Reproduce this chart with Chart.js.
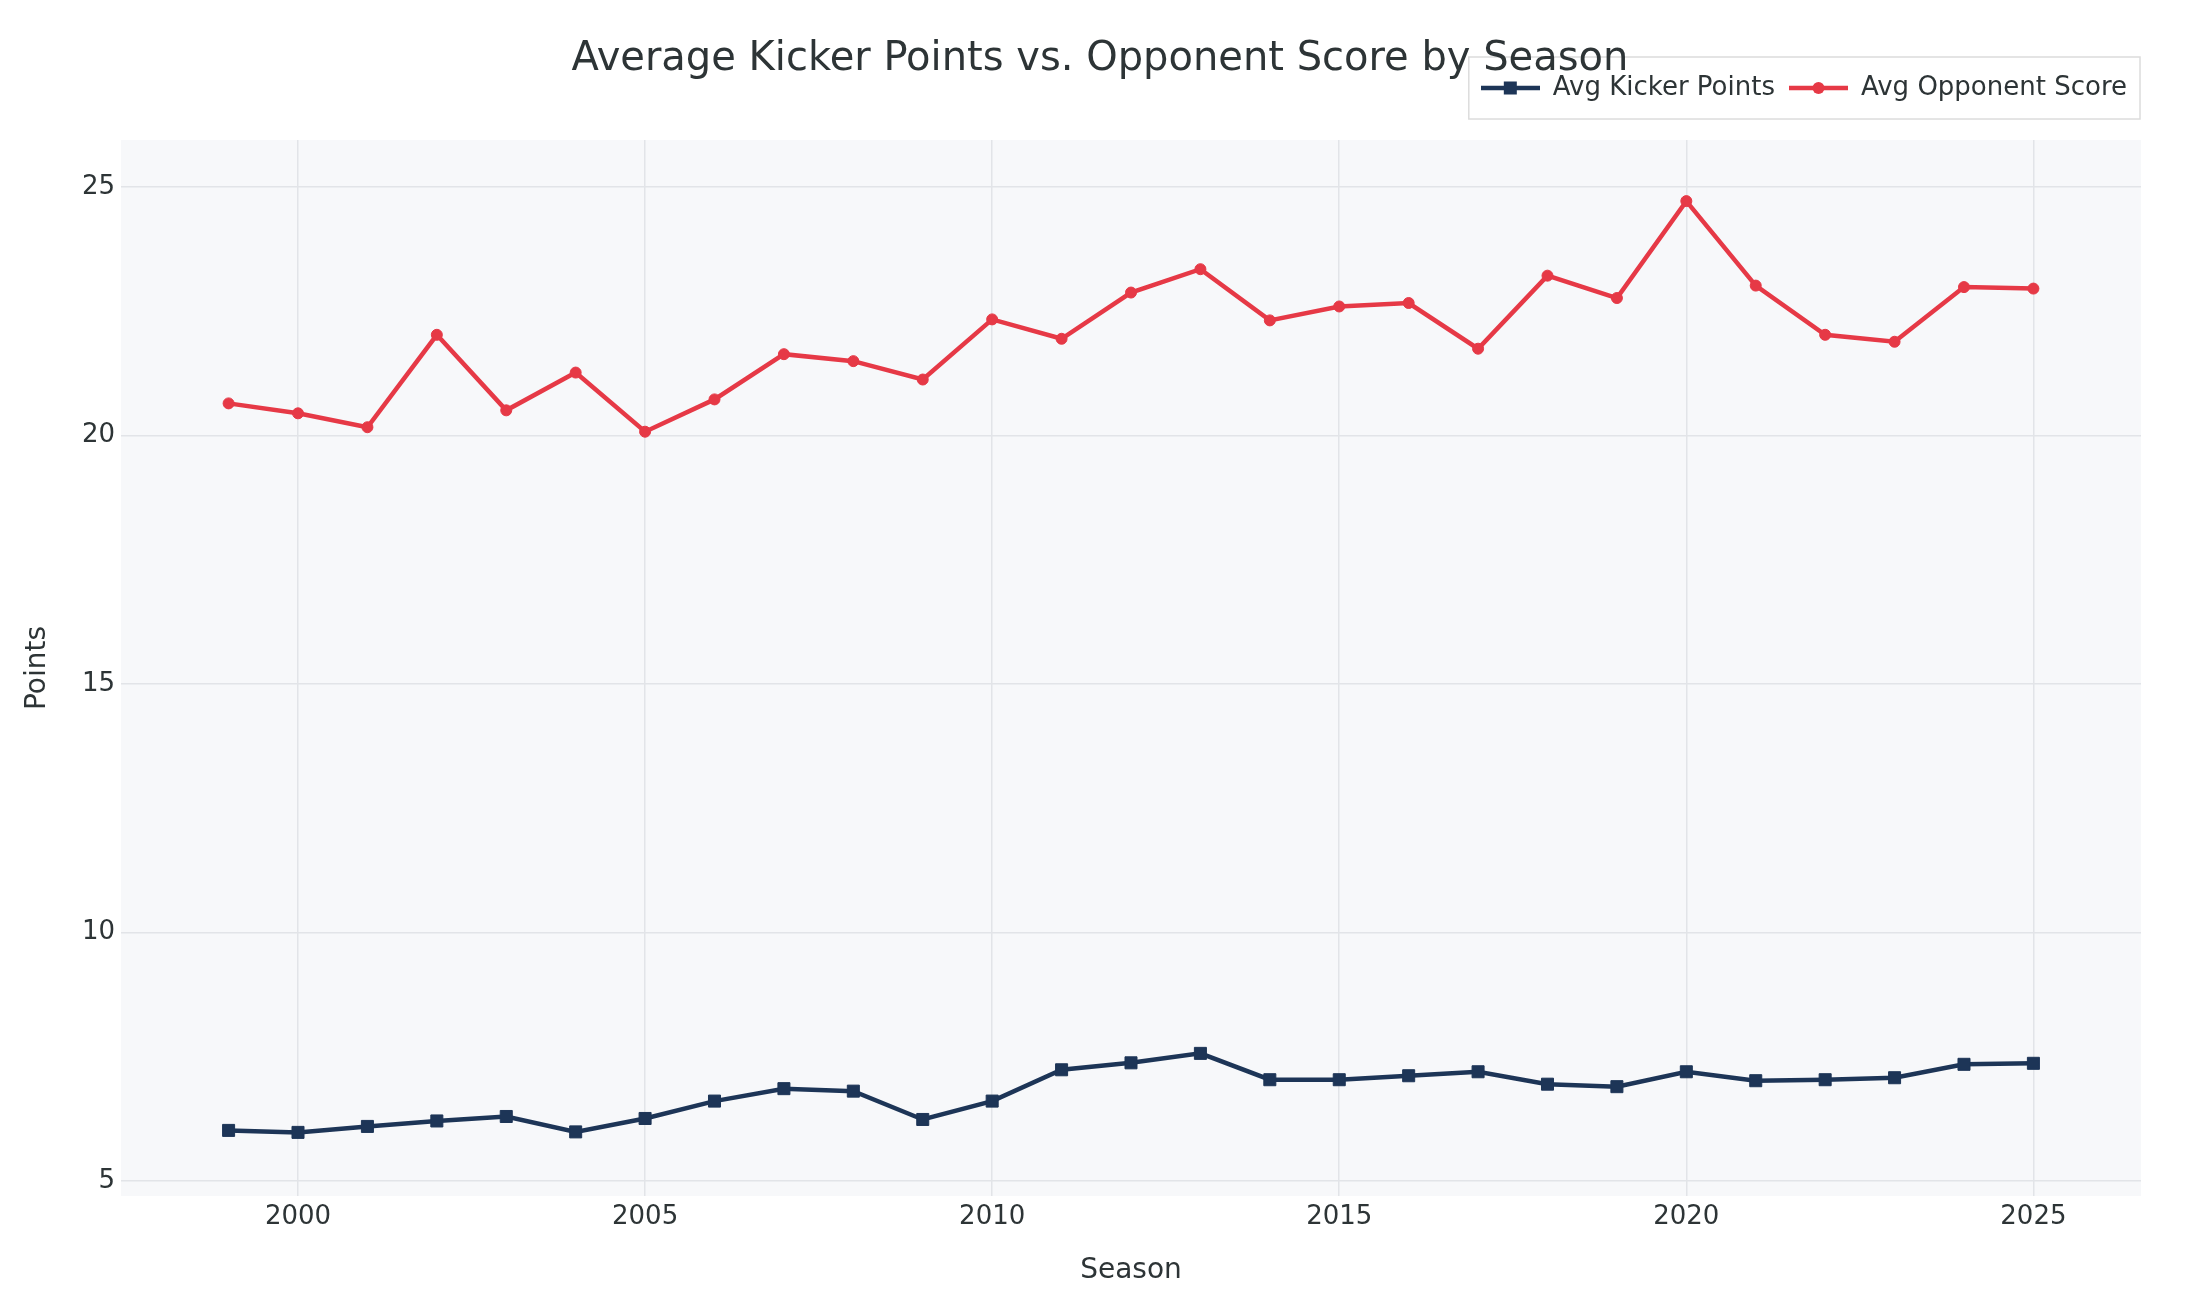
<!DOCTYPE html>
<html lang="en">
<head>
<meta charset="UTF-8">
<title>Average Kicker Points vs. Opponent Score by Season</title>
<script src="https://cdn.jsdelivr.net/npm/chart.js"></script>
<style>
  body {
    margin: 0;
    padding: 0;
    background: #ffffff;
  }
  .chart-box {
    width: 2200px;
    height: 1300px;
  }
</style>
</head>
<body>
<div class="chart-box">
  <canvas id="kicker-chart" width="2200" height="1300"></canvas>
</div>
<script>
  // seasons and values
  const seasons = [1999, 2000, 2001, 2002, 2003, 2004, 2005, 2006, 2007, 2008, 2009, 2010, 2011, 2012,
                   2013, 2014, 2015, 2016, 2017, 2018, 2019, 2020, 2021, 2022, 2023, 2024, 2025];
  const kickerPoints = [6.02, 5.98, 6.10, 6.21, 6.30, 5.99, 6.26, 6.61, 6.86, 6.81, 6.24, 6.61, 7.24, 7.38,
                        7.57, 7.04, 7.04, 7.12, 7.20, 6.95, 6.90, 7.20, 7.02, 7.04, 7.08, 7.35, 7.37];
  const opponentScore = [20.65, 20.45, 20.17, 22.03, 20.51, 21.27, 20.08, 20.73, 21.64, 21.50, 21.13, 22.34, 21.95, 22.88,
                         23.35, 22.32, 22.60, 22.67, 21.75, 23.22, 22.77, 24.72, 23.02, 22.03, 21.89, 22.99, 22.96];
  const xTicks = [2000, 2005, 2010, 2015, 2020, 2025];
  const yTicks = [5, 10, 15, 20, 25];

  const navy = '#1d3557';
  const red = '#e63946';
  const textColor = '#2d3436';
  const gridColor = '#e2e4e8';

  Chart.defaults.font.family = "'DejaVu Sans', sans-serif";
  Chart.defaults.color = textColor;

  // small line + marker images for the legend
  function legendSwatch(color, shape) {
    const c = document.createElement('canvas');
    c.width = 59;
    c.height = 20;
    const g = c.getContext('2d');
    g.strokeStyle = color;
    g.lineWidth = 4.5;
    g.beginPath();
    g.moveTo(0, 10);
    g.lineTo(59, 10);
    g.stroke();
    g.fillStyle = color;
    if (shape === 'rect') {
      g.fillRect(29.5 - 6.5, 10 - 6.5, 13, 13);
    } else {
      g.beginPath();
      g.arc(29.5, 10, 6, 0, Math.PI * 2);
      g.fill();
    }
    return c;
  }
  const swatches = [legendSwatch(navy, 'rect'), legendSwatch(red, 'circle')];

  const plotBackground = {
    id: 'plotBackground',
    beforeDraw(chart) {
      const {ctx, chartArea} = chart;
      ctx.save();
      ctx.fillStyle = '#ffffff';
      ctx.fillRect(0, 0, chart.width, chart.height);
      ctx.fillStyle = '#f7f8fa';
      ctx.fillRect(chartArea.left, chartArea.top, chartArea.right - chartArea.left, chartArea.bottom - chartArea.top);
      ctx.restore();
    }
  };

  const legendFrame = {
    id: 'legendFrame',
    beforeDraw(chart) {
      const boxes = chart.legend.legendHitBoxes;
      if (!boxes || !boxes.length) return;
      const first = boxes[0];
      const last = boxes[boxes.length - 1];
      const cy = first.top + first.height / 2;
      const left = first.left - 12;
      const right = last.left + last.width + 13;
      const {ctx} = chart;
      ctx.save();
      ctx.fillStyle = '#ffffff';
      ctx.fillRect(left, cy - 31, right - left, 62);
      ctx.strokeStyle = '#dcdcdc';
      ctx.lineWidth = 1.5;
      ctx.strokeRect(left, cy - 31, right - left, 62);
      ctx.restore();
    }
  };

  const ctx = document.getElementById('kicker-chart').getContext('2d');
  const chart = new Chart(ctx, {
    type: 'line',
    data: {
      datasets: [{
        label: 'Avg Kicker Points',
        data: seasons.map((s, i) => ({x: s, y: kickerPoints[i]})),
        borderColor: navy,
        backgroundColor: navy,
        borderWidth: 4.5,
        pointStyle: 'rect',
        pointRadius: 8.5,
        pointBorderColor: navy,
        pointBorderWidth: 1,
        tension: 0,
        fill: false
      }, {
        label: 'Avg Opponent Score',
        data: seasons.map((s, i) => ({x: s, y: opponentScore[i]})),
        borderColor: red,
        backgroundColor: red,
        borderWidth: 4.5,
        pointStyle: 'circle',
        pointRadius: 5.5,
        pointBorderColor: red,
        pointBorderWidth: 1,
        tension: 0,
        fill: false
      }]
    },
    options: {
      responsive: false,
      devicePixelRatio: 1,
      animation: false,
      layout: {
        padding: {top: 61, left: 0, right: 0, bottom: 0}
      },
      plugins: {
        title: {
          display: true,
          text: 'Average Kicker Points vs. Opponent Score by Season',
          weight: 500,
          color: textColor,
          font: {size: 40, weight: 'normal'},
          padding: {top: -75, bottom: 56}
        },
        legend: {
          position: 'top',
          align: 'end',
          fullSize: false,
          weight: 1000,
          labels: {
            usePointStyle: true,
            pointStyleWidth: 59,
            padding: 14,
            color: textColor,
            font: {size: 26},
            generateLabels(chart) {
              const items = Chart.defaults.plugins.legend.labels.generateLabels(chart);
              items.forEach((item, i) => { item.pointStyle = swatches[i]; });
              return items;
            }
          }
        },
        tooltip: {enabled: false}
      },
      scales: {
        x: {
          type: 'linear',
          min: 1997.45,
          max: 2026.55,
          afterBuildTicks(scale) {
            scale.ticks = xTicks.map(v => ({value: v}));
          },
          afterFit(scale) {
            scale.height = 104;
          },
          grid: {color: gridColor, lineWidth: 1.5, drawTicks: false},
          border: {display: false},
          ticks: {
            padding: 6,
            font: {size: 26},
            color: textColor,
            callback: v => String(v)
          },
          title: {
            display: true,
            text: 'Season',
            font: {size: 28},
            color: textColor,
            padding: {top: 0, bottom: 12}
          }
        },
        y: {
          type: 'linear',
          min: 4.7,
          max: 25.95,
          afterBuildTicks(scale) {
            scale.ticks = yTicks.map(v => ({value: v}));
          },
          afterFit(scale) {
            scale.width = 121;
          },
          grid: {color: gridColor, lineWidth: 1.5, drawTicks: false},
          border: {display: false},
          ticks: {
            padding: 6,
            font: {size: 26},
            color: textColor,
            callback: v => String(v)
          },
          title: {
            display: true,
            text: 'Points',
            font: {size: 28},
            color: textColor,
            padding: {top: 21, bottom: 0}
          }
        },
        yRight: {
          type: 'linear',
          position: 'right',
          display: true,
          afterFit(scale) {
            scale.width = 59;
          },
          grid: {display: false},
          border: {display: false},
          ticks: {display: false}
        }
      }
    },
    plugins: [plotBackground, legendFrame]
  });
</script>
</body>
</html>
